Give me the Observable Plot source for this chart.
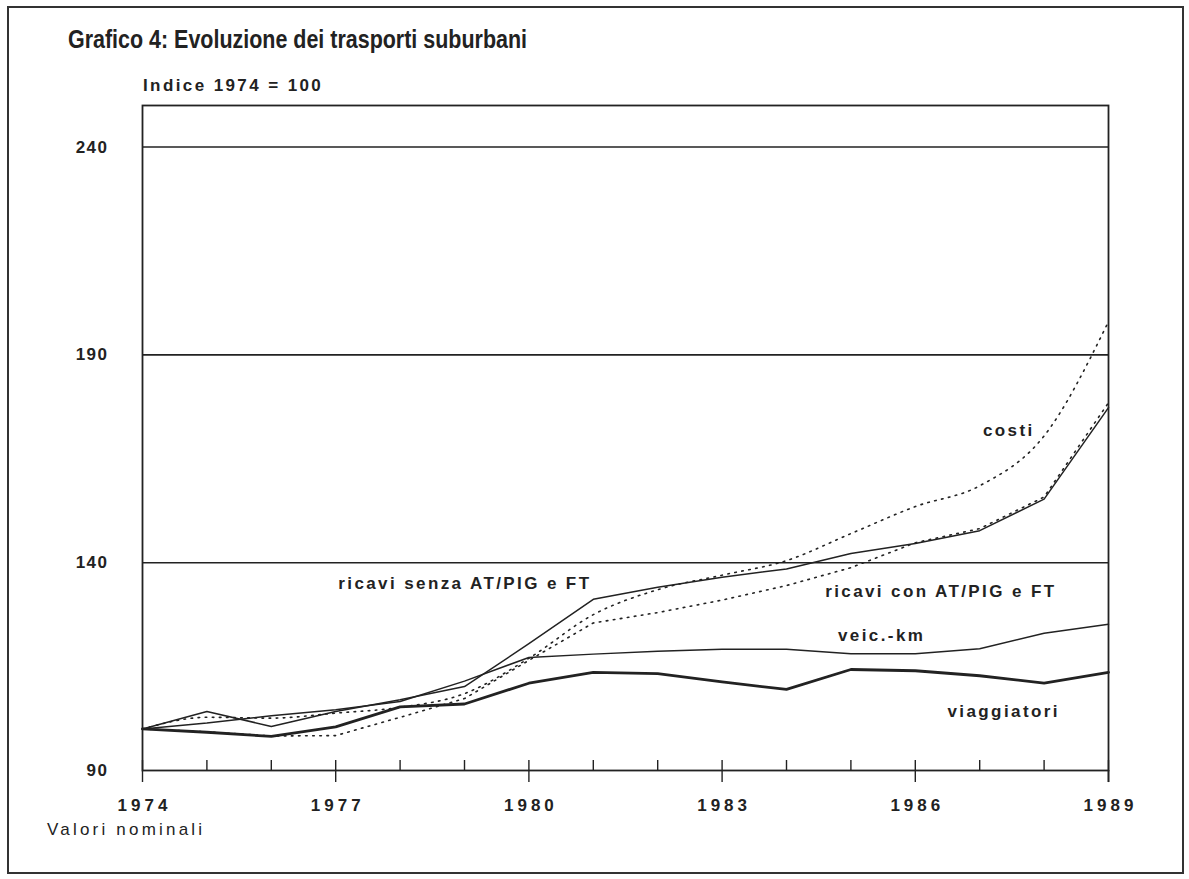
<!DOCTYPE html>
<html>
<head>
<meta charset="utf-8">
<script src="https://cdn.jsdelivr.net/npm/d3@7"></script>
<script src="https://cdn.jsdelivr.net/npm/@observablehq/plot@0.6"></script>
<style>
  html, body { margin: 0; padding: 0; background: #fff; }
  #page { position: relative; width: 1189px; height: 879px; overflow: hidden; background: #fff; color: #222; }
  #border { position: absolute; left: 7px; top: 6px; width: 1173px; height: 864px; border: 2px solid #333; }
  #title { position: absolute; left: 68px; top: 27px; line-height: 1; font-family: "Liberation Sans", Arial, sans-serif; font-weight: bold; font-size: 25px; color: #222; white-space: nowrap; transform-origin: 0 0; }
  #ylab { position: absolute; left: 143px; top: 77px; line-height: 1; font-family: "Liberation Sans", Arial, sans-serif; font-weight: bold; font-size: 17px; letter-spacing: 2.4px; color: #222; white-space: nowrap; }
  #note { position: absolute; left: 47px; top: 821px; line-height: 1; font-family: "Liberation Sans", Arial, sans-serif; font-size: 17px; letter-spacing: 3.2px; color: #222; white-space: nowrap; }
  #chart { position: absolute; left: 0; top: 95px; }
</style>
</head>
<body>
<div id="page">
  <div id="border"></div>
  <div id="title">Grafico 4: Evoluzione dei trasporti suburbani</div>
  <div id="ylab">Indice 1974 = 100</div>
  <div id="chart"></div>
  <div id="note">Valori nominali</div>
</div>
<script>
const years = [1974, 1975, 1976, 1977, 1978, 1979, 1980, 1981, 1982, 1983, 1984, 1985, 1986, 1987, 1988, 1989];
const majorYears = [1974, 1977, 1980, 1983, 1986, 1989];
const yTicks = [90, 140, 190, 240];
const gridValues = [140, 190, 240];

const viaggiatori = [100, 99.2, 98.2, 100.5, 105.3, 106, 111, 113.6, 113.3, 111.3, 109.5, 114.3, 114, 112.8, 111, 113.6];
const veicKm      = [100, 101.4, 103.2, 104.6, 106.6, 111.5, 117.2, 118, 118.7, 119.2, 119.2, 118.1, 118.1, 119.3, 123, 125.2];
const ricaviSenza = [100, 104.2, 100.6, 104.2, 107, 110.2, 120.5, 131.2, 134.1, 136.5, 138.5, 142.2, 144.6, 147.7, 155.3, 177.3];
const ricaviCon   = [100, 99.3, 98.3, 98.4, 102.8, 107.3, 116.5, 125.5, 128, 131, 134.5, 138.8, 144.8, 148.2, 155.8, 178.5];
const costi       = [100, 102.8, 102.6, 103.8, 105.2, 108.5, 117, 127.5, 133.5, 137, 140.5, 147, 153.5, 158.5, 170.5, 198];

const labelTexts  = ["ricavi senza AT/PIG e FT", "ricavi con AT/PIG e FT", "veic.-km", "costi", "viaggiatori"];
const labelYears  = [1977.04, 1984.6, 1984.8, 1987.05, 1986.5];
const labelValues = [135, 133, 122.5, 171.7, 104.2];

const toRows = (vals) => years.map((y, i) => ({year: y, value: vals[i]}));
const labels = labelTexts.map((t, i) => ({text: t, year: labelYears[i], value: labelValues[i]}));

const ink = "#222";
const fontFam = "'Liberation Sans', Arial, sans-serif";

const chart = Plot.plot({
  width: 1189,
  height: 725,
  marginLeft: 142,
  marginRight: 81,
  marginTop: 10,
  marginBottom: 50,
  style: {fontFamily: fontFam, fontSize: "16px", color: ink, background: "transparent", overflow: "visible"},
  x: {domain: [1974, 1989]},
  y: {domain: [90, 250]},
  marks: [
    Plot.ruleY(gridValues, {stroke: ink, strokeWidth: 1.6}),
    Plot.ruleX(years, {y1: 90, y2: 92.4, stroke: ink, strokeWidth: 1.4}),
    Plot.axisX({ticks: majorYears, tickFormat: "d", tickSize: 12, tickPadding: 16, label: null, fontWeight: "bold", fontSize: 17, stroke: ink, strokeWidth: 1.4}),
    Plot.axisY({ticks: yTicks, tickSize: 0, tickPadding: 34, label: null, fontWeight: "bold", fontSize: 17}),
    Plot.line(toRows(costi), {x: "year", y: "value", stroke: ink, strokeWidth: 1.6, strokeDasharray: "1.6,5.5", curve: "monotone-x"}),
    Plot.line(toRows(ricaviCon), {x: "year", y: "value", stroke: ink, strokeWidth: 1.6, strokeDasharray: "1.6,5.5"}),
    Plot.line(toRows(veicKm), {x: "year", y: "value", stroke: ink, strokeWidth: 1.5}),
    Plot.line(toRows(ricaviSenza), {x: "year", y: "value", stroke: ink, strokeWidth: 1.5}),
    Plot.line(toRows(viaggiatori), {x: "year", y: "value", stroke: ink, strokeWidth: 2.8}),
    Plot.text(labels, {x: "year", y: "value", text: "text", textAnchor: "start", fontSize: 17, fontWeight: "bold", fill: ink}),
    Plot.frame({stroke: ink, strokeWidth: 1.8}),
    Plot.ruleX([1989], {y1: 87.1, y2: 90, stroke: ink, strokeWidth: 1.8})
  ]
});
// letter spacing for annotation labels and tick labels
chart.querySelectorAll("g[aria-label='text'] text").forEach(t => { t.style.letterSpacing = "2.4px"; });
chart.querySelectorAll("g[aria-label='x-axis tick label'] text").forEach(t => { t.style.letterSpacing = "4px"; t.setAttribute("dx", "2"); });
chart.querySelectorAll("g[aria-label='y-axis tick label'] text").forEach(t => { t.style.letterSpacing = "1.5px"; });
document.getElementById("chart").appendChild(chart);
// condense the title to the width of the original heading
const title = document.getElementById("title");
const w = title.getBoundingClientRect().width;
title.style.transform = `scaleX(${459 / w})`;
</script>
</body>
</html>
